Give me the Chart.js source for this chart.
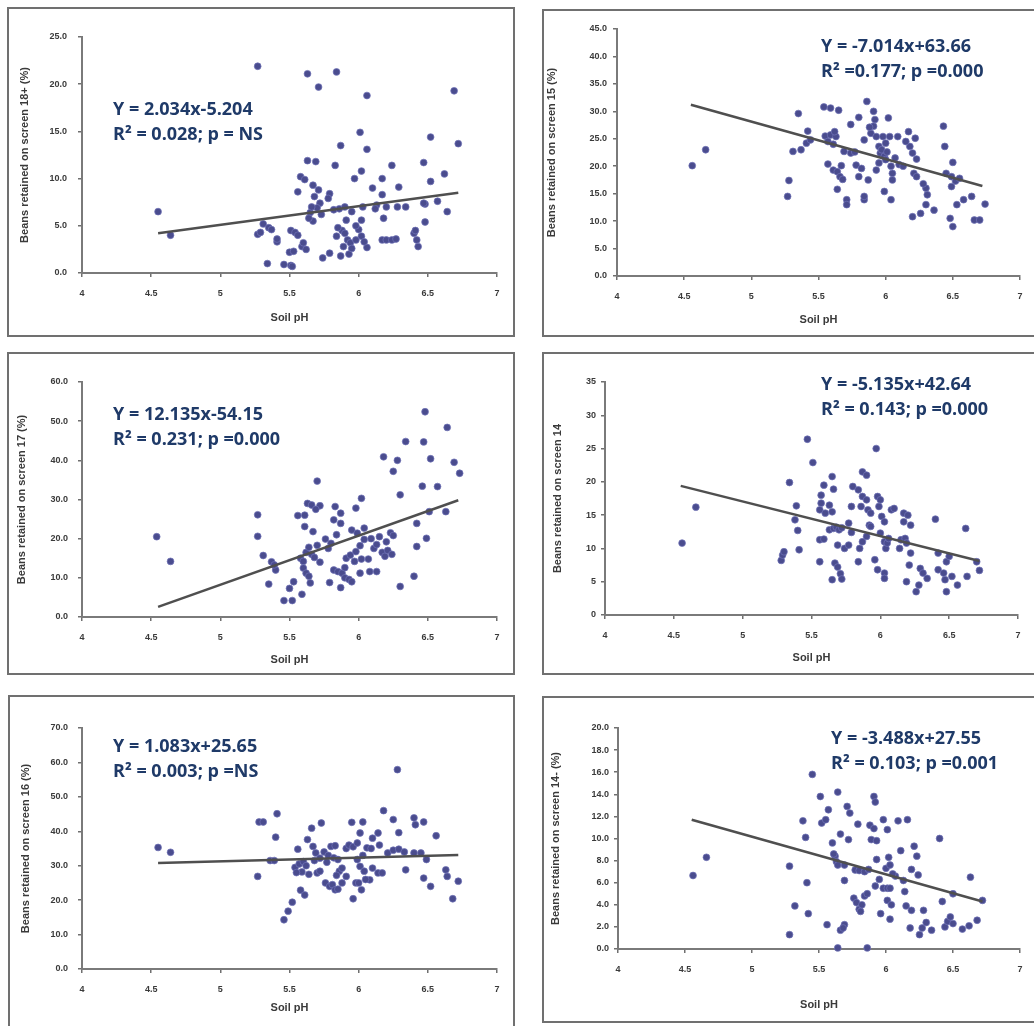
<!DOCTYPE html>
<html>
<head>
<meta charset="utf-8">
<script src="https://cdn.jsdelivr.net/npm/chart.js@4.4.1/dist/chart.umd.min.js"></script>
<style>
  html, body { margin: 0; padding: 0; background: #fff; width: 1034px; height: 1026px; overflow: hidden; position: relative; }
  .frame { position: absolute; box-sizing: border-box; border: 2px solid #707070; background: #fff; }
  .frame canvas { position: absolute; left: 0; top: 0; }
  .eq { position: absolute; font-family: 'Open Sans', sans-serif; font-weight: 700; font-size: 18px; line-height: 25px; color: #1f3a68; white-space: nowrap; }
</style>
</head>
<body>
<script>
// [soil pH, % beans retained]
const screen18Plus = [[4.55,6.5],[4.64,4.0],
  [5.27,21.9],[5.27,4.1],[5.29,4.3],[5.31,5.2],[5.34,1.0],[5.35,4.8],[5.37,4.6],[5.41,3.3],[5.41,3.6],
  [5.46,0.9],[5.51,0.8],[5.52,0.7],[5.50,2.2],[5.53,2.3],[5.51,4.5],[5.54,4.3],[5.56,4.0],[5.56,8.6],[5.58,10.2],[5.61,9.9],[5.59,2.8],[5.62,2.5],[5.60,3.2],
  [5.63,21.1],[5.63,11.9],[5.69,11.8],[5.71,19.7],[5.67,9.3],[5.71,8.8],[5.68,8.1],[5.72,7.4],[5.65,6.4],[5.67,5.5],[5.70,6.9],[5.66,7.0],[5.64,5.8],[5.73,6.2],[5.74,1.6],[5.79,2.1],[5.79,8.4],[5.78,7.9],
  [5.84,21.3],[5.83,11.4],[5.87,13.5],[5.82,6.7],[5.86,6.8],[5.84,3.9],[5.87,1.8],[5.88,4.5],[5.85,4.8],[5.90,4.2],[5.91,5.6],[5.92,3.5],[5.94,3.2],[5.89,2.8],[5.93,2.0],[5.95,2.6],[5.90,7.0],[5.95,6.5],
  [5.97,10.0],[6.02,10.8],[6.01,14.9],[6.06,18.8],[6.06,13.1],[6.00,4.6],[6.02,3.9],[6.02,5.6],[6.06,2.7],[5.98,3.5],[6.04,3.3],[6.03,7.0],[5.98,5.0],
  [6.10,9.0],[6.13,7.2],[6.17,10.0],[6.17,8.3],[6.18,5.8],[6.17,3.5],[6.20,3.5],[6.24,3.5],[6.27,3.6],[6.24,11.4],[6.29,9.1],[6.20,7.0],[6.28,7.0],[6.34,7.0],[6.12,6.8],
  [6.40,4.2],[6.42,3.5],[6.43,2.8],[6.41,4.5],[6.47,11.7],[6.48,7.3],[6.52,9.7],[6.52,14.4],[6.48,5.4],[6.57,7.6],[6.47,7.4],[6.62,10.5],[6.64,6.5],[6.69,19.3],[6.72,13.7]];

const screen15 = [[4.56,20.1],[4.66,23.0],
  [5.27,14.5],[5.28,17.4],[5.31,22.7],[5.35,29.6],[5.37,23.0],[5.41,24.2],[5.42,26.4],[5.44,24.8],
  [5.54,30.8],[5.59,30.6],[5.65,30.2],[5.55,25.5],[5.59,25.7],[5.63,25.4],[5.57,24.5],[5.61,24.0],[5.62,26.3],
  [5.57,20.4],[5.61,19.3],[5.64,19.0],[5.67,20.1],[5.66,18.1],[5.64,15.8],[5.71,13.9],[5.71,13.0],[5.68,17.6],
  [5.69,22.7],[5.74,22.4],[5.77,22.6],[5.74,27.6],[5.80,28.9],[5.80,18.1],[5.87,17.5],[5.84,13.9],[5.84,14.5],[5.78,20.2],[5.82,19.6],
  [5.86,31.8],[5.84,24.8],[5.89,26.0],[5.91,27.3],[5.92,28.5],[5.91,30.0],[5.88,27.1],
  [5.93,25.4],[5.95,23.6],[5.96,22.4],[5.95,20.6],[5.93,19.3],[5.98,25.4],[6.00,24.2],[6.03,25.4],[6.02,28.8],[5.99,21.8],[6.00,21.2],[6.04,20.0],[6.05,18.7],[6.05,17.5],[5.97,23.0],[6.01,22.6],[5.99,15.4],[6.04,13.9],
  [6.09,25.4],[6.07,21.5],[6.10,20.3],[6.13,20.0],[6.17,26.3],[6.22,25.1],[6.18,23.6],[6.20,22.4],[6.23,21.3],[6.21,18.7],[6.23,18.1],[6.15,24.5],
  [6.20,10.8],[6.26,11.4],[6.30,16.0],[6.31,14.8],[6.30,13.0],[6.36,12.0],[6.28,16.8],
  [6.43,27.3],[6.44,23.6],[6.45,18.7],[6.49,18.1],[6.50,20.7],[6.49,16.3],[6.48,10.5],[6.50,9.0],[6.53,13.0],[6.58,13.9],[6.64,14.5],[6.66,10.2],[6.70,10.2],[6.74,13.1],[6.52,17.3],[6.55,17.8]];

const screen17 = [[4.54,20.5],[4.64,14.2],
  [5.27,26.1],[5.27,20.6],[5.31,15.7],[5.35,8.4],[5.37,14.1],[5.40,12.0],[5.39,13.3],
  [5.46,4.2],[5.52,4.2],[5.50,7.3],[5.53,9.0],[5.59,5.8],[5.56,25.9],[5.61,26.0],
  [5.61,23.1],[5.63,29.0],[5.66,28.6],[5.67,21.8],[5.70,34.7],[5.72,28.4],[5.69,27.5],
  [5.58,15.0],[5.60,14.2],[5.62,16.5],[5.64,17.8],[5.66,16.0],[5.68,15.2],[5.70,18.3],[5.72,14.0],[5.60,12.5],[5.62,11.2],[5.64,10.4],[5.65,8.7],
  [5.76,19.9],[5.80,18.8],[5.79,8.8],[5.83,28.2],[5.87,26.5],[5.82,24.8],[5.87,23.9],[5.84,21.0],[5.78,17.5],
  [5.82,12.0],[5.85,11.6],[5.88,11.2],[5.90,10.0],[5.93,9.6],[5.95,9.0],[5.87,7.5],[5.90,12.6],
  [5.98,27.8],[6.02,30.3],[5.95,22.2],[5.99,21.4],[6.04,22.7],[5.91,15.0],[5.94,15.8],[5.98,16.7],[6.01,18.2],[6.04,19.8],[5.97,14.2],[6.02,14.8],
  [6.01,11.2],[6.08,11.6],[6.13,11.6],[6.07,14.8],[6.09,20.0],[6.11,17.5],[6.13,18.5],[6.15,20.5],[6.17,16.5],[6.19,15.5],[6.21,17.0],[6.23,21.5],[6.25,20.8],[6.20,19.2],[6.24,16.0],
  [6.18,40.9],[6.25,37.2],[6.28,40.0],[6.34,44.8],[6.30,31.2],[6.30,7.8],
  [6.40,10.4],[6.42,18.0],[6.42,23.9],[6.46,33.4],[6.47,44.7],[6.48,52.4],[6.49,20.1],[6.51,26.9],[6.52,40.4],[6.57,33.3],[6.64,48.4],[6.63,26.9],[6.69,39.5],[6.73,36.7]];

const screen14 = [[4.56,10.8],[4.66,16.2],
  [5.28,8.2],[5.29,9.0],[5.30,9.5],[5.34,19.9],[5.38,14.3],[5.39,16.4],[5.40,12.7],[5.41,9.8],[5.47,26.4],
  [5.51,22.9],[5.56,8.0],[5.56,11.3],[5.59,11.4],[5.57,18.0],[5.57,16.8],[5.56,15.8],[5.60,15.3],[5.59,19.5],[5.65,20.8],[5.66,18.9],[5.63,16.5],[5.65,15.5],[5.65,5.3],
  [5.63,12.8],[5.66,13.0],[5.68,13.2],[5.70,12.8],[5.72,13.1],[5.67,7.8],[5.69,7.2],[5.71,6.2],[5.72,5.4],[5.69,10.5],
  [5.74,10.0],[5.77,10.5],[5.79,12.4],[5.77,13.8],[5.79,16.3],[5.84,8.0],[5.80,19.3],[5.84,18.8],[5.87,17.8],[5.90,17.3],[5.87,21.5],[5.90,21.0],[5.86,16.3],[5.91,15.8],[5.93,15.3],
  [5.85,10.0],[5.87,11.0],[5.90,11.8],[5.92,13.5],[5.93,13.3],[5.96,8.3],[5.98,6.8],[6.03,6.3],[6.03,5.5],[5.97,25.0],
  [5.98,17.8],[6.00,17.3],[5.99,16.3],[6.01,14.8],[6.03,14.0],[6.00,12.3],[6.03,11.0],[6.04,10.0],[6.05,10.8],[6.06,11.5],[6.08,15.8],[6.10,16.0],
  [6.14,10.0],[6.15,11.3],[6.18,11.5],[6.19,10.8],[6.17,15.3],[6.20,15.0],[6.22,13.5],[6.17,14.0],[6.19,5.0],[6.22,9.3],[6.21,7.5],
  [6.26,3.5],[6.28,4.5],[6.29,7.0],[6.31,6.3],[6.34,5.5],[6.40,14.4],[6.42,9.3],[6.42,6.8],[6.46,6.3],[6.47,5.3],[6.48,3.5],[6.48,8.0],[6.50,8.8],[6.52,5.8],[6.56,4.5],[6.62,13.0],[6.63,5.8],[6.70,8.0],[6.72,6.7]];

const screen16 = [[4.55,35.3],[4.64,33.9],
  [5.27,26.9],[5.28,42.7],[5.31,42.7],[5.36,31.5],[5.39,31.5],[5.41,45.1],[5.40,38.3],
  [5.46,14.3],[5.49,16.8],[5.52,19.4],[5.56,34.8],[5.54,29.5],[5.57,30.5],[5.59,28.2],[5.55,28.0],[5.58,22.9],[5.61,21.5],
  [5.60,31.2],[5.62,30.0],[5.64,27.5],[5.63,37.6],[5.66,40.9],[5.67,35.6],[5.69,33.7],[5.70,27.9],[5.72,28.4],[5.73,42.4],
  [5.68,31.5],[5.72,32.2],[5.75,34.0],[5.78,33.0],[5.80,35.6],[5.83,35.8],[5.77,31.0],[5.82,32.3],[5.85,31.8],
  [5.76,25.0],[5.79,24.0],[5.81,24.5],[5.83,23.0],[5.85,23.2],[5.88,25.0],[5.86,28.4],[5.88,29.3],[5.91,26.9],[5.84,27.2],
  [5.91,35.0],[5.93,36.0],[5.96,35.5],[5.99,36.6],[5.95,42.6],[6.03,42.7],[5.96,20.4],[5.98,25.0],[6.00,25.0],[6.01,39.5],
  [5.99,31.8],[6.01,29.8],[6.04,28.4],[6.02,23.0],[6.08,25.9],[6.03,33.0],[6.05,26.0],
  [6.06,35.2],[6.09,35.0],[6.10,38.0],[6.14,39.5],[6.15,36.0],[6.10,29.3],[6.14,27.9],[6.17,27.9],[6.18,46.0],
  [6.21,33.7],[6.25,34.5],[6.29,34.8],[6.33,34.0],[6.25,43.4],[6.28,57.9],[6.29,39.6],[6.34,28.8],
  [6.40,43.9],[6.41,41.9],[6.40,33.7],[6.45,33.7],[6.47,42.7],[6.47,26.4],[6.52,24.0],[6.49,31.8],[6.56,38.7],[6.63,28.8],[6.64,26.9],[6.68,20.4],[6.72,25.5]];

const screen14Minus = [[4.56,6.65],[4.66,8.3],
  [5.28,7.5],[5.28,1.3],[5.32,3.9],[5.38,11.6],[5.40,10.1],[5.41,6.0],[5.42,3.2],[5.45,15.8],
  [5.51,13.8],[5.52,11.4],[5.55,11.7],[5.57,12.6],[5.56,2.2],[5.64,14.2],[5.60,9.6],[5.62,8.4],[5.63,7.9],[5.64,7.6],[5.61,8.6],[5.66,10.4],[5.64,0.1],[5.66,1.7],[5.69,2.2],[5.68,1.9],
  [5.69,7.6],[5.69,6.2],[5.71,12.9],[5.73,12.3],[5.72,9.9],[5.79,11.3],
  [5.76,4.6],[5.78,4.2],[5.80,3.6],[5.82,4.0],[5.84,4.8],[5.86,5.0],[5.81,3.4],[5.77,7.15],[5.80,7.1],[5.84,7.0],[5.87,7.2],
  [5.86,0.1],[5.91,13.8],[5.92,13.3],[5.88,11.2],[5.91,10.9],[5.89,9.9],[5.93,9.8],[5.93,8.1],[5.95,6.3],[5.92,5.7],
  [5.98,11.7],[6.01,10.8],[6.02,8.3],[5.98,5.5],[6.01,5.5],[6.03,5.5],[5.96,3.2],[6.03,2.7],[6.00,7.3],[6.03,7.6],[6.01,4.4],[6.04,4.0],[6.07,6.6],[6.05,6.8],
  [6.09,11.6],[6.16,11.7],[6.11,8.9],[6.13,6.2],[6.14,5.2],[6.15,3.9],[6.19,3.5],[6.18,1.9],[6.19,7.2],[6.21,9.3],[6.23,8.4],[6.24,6.7],
  [6.25,1.3],[6.27,1.9],[6.28,3.5],[6.30,2.4],[6.34,1.7],[6.40,10.0],[6.42,4.3],[6.44,2.0],[6.46,2.5],[6.48,2.9],[6.50,2.3],[6.50,5.0],[6.57,1.8],[6.62,2.1],[6.63,6.5],[6.68,2.6],[6.72,4.4]];

// trend line end points
const trend18Plus = [[4.55,4.2],[6.72,8.5]];
const trend15 = [[4.55,31.2],[6.72,16.4]];
const trend17 = [[4.55,2.6],[6.72,29.8]];
const trend14 = [[4.55,19.4],[6.72,8.1]];
const trend16 = [[4.55,30.8],[6.72,33.1]];
const trend14Minus = [[4.55,11.7],[6.72,4.3]];

const yTitles = ['Beans retained on screen 18+ (%)', 'Beans retained on screen 15 (%)', 'Beans retained on screen 17 (%)',
  'Beans retained on screen 14', 'Beans retained on screen 16 (%)', 'Beans retained on screen 14- (%)'];
const yMax = [25, 45, 60, 35, 70, 20];
const yStep = [5, 5, 10, 5, 10, 2];
const yDecimals = [1, 1, 1, 0, 1, 1];
const xTicks = [4, 4.5, 5, 5.5, 6, 6.5, 7];
const equations = ['Y = 2.034x-5.204', 'Y = -7.014x+63.66', 'Y = 12.135x-54.15', 'Y = -5.135x+42.64', 'Y = 1.083x+25.65', 'Y = -3.488x+27.55'];
const statLines = ['R\u00b2 = 0.028; p = NS', 'R\u00b2 =0.177; p =0.000', 'R\u00b2 = 0.231; p =0.000', 'R\u00b2 = 0.143; p =0.000', 'R\u00b2 = 0.003; p =NS', 'R\u00b2 = 0.103; p =0.001'];

const series = [screen18Plus, screen15, screen17, screen14, screen16, screen14Minus];
const trends = [trend18Plus, trend15, trend17, trend14, trend16, trend14Minus];

// page layout (px): frame box, plot area box, title centres, equation block
const layout = [
  { frame: [7, 7, 508, 330],   plot: [82, 37, 497, 273],   yTitleX: 25,  xTitleY: 318,  tickPad: 11, eq: [113, 108] },
  { frame: [542, 9, 500, 328], plot: [617, 29, 1020, 276], yTitleX: 552, xTitleY: 320,  tickPad: 6,  eq: [821, 45] },
  { frame: [7, 352, 508, 323], plot: [82, 382, 497, 617],  yTitleX: 22,  xTitleY: 660,  tickPad: 10, eq: [113, 413] },
  { frame: [542, 352, 500, 323], plot: [605, 382, 1018, 615], yTitleX: 558, xTitleY: 658, tickPad: 5, eq: [821, 383] },
  { frame: [8, 695, 507, 340], plot: [82, 728, 497, 969],  yTitleX: 26,  xTitleY: 1008, tickPad: 10, eq: [113, 745] },
  { frame: [542, 696, 500, 327], plot: [618, 728, 1020, 949], yTitleX: 556, xTitleY: 1005, tickPad: 5, eq: [831, 737] },
];

const FONT = "'Liberation Sans', Arial, sans-serif";
const TEXT = '#3a3a3a';
Chart.defaults.font.family = FONT;

layout.forEach((p, i) => {
  const [fx, fy, fw, fh] = p.frame;
  const frame = document.createElement('div');
  frame.className = 'frame';
  Object.assign(frame.style, { left: fx + 'px', top: fy + 'px', width: fw + 'px', height: fh + 'px' });
  const ox = fx + 2, oy = fy + 2, cw = fw - 4, ch = fh - 4;
  const cv = document.createElement('canvas');
  cv.width = cw; cv.height = ch;
  cv.style.width = cw + 'px'; cv.style.height = ch + 'px';
  frame.appendChild(cv);
  document.body.appendChild(frame);

  const [pl, pt, pr, pb] = p.plot;
  const left = pl - ox, top = pt - oy, right = pr - ox, bottom = pb - oy;
  const titleLH = 11 * 1.2;

  const axisGrid = { drawOnChartArea: false, drawTicks: true, tickLength: 4, color: '#6f6f6f', lineWidth: 1.5 };
  const axisBorder = { display: true, color: '#7a7a7a', width: 2 };
  const tickFont = { size: 9, weight: 'bold', family: FONT };
  const titleFont = { size: 11, weight: 'bold', family: FONT };

  new Chart(cv, {
    type: 'scatter',
    data: {
      datasets: [
        {
          data: trends[i].map(([x, y]) => ({ x, y })),
          showLine: true, borderColor: '#4f4f4f', borderWidth: 2.5, pointRadius: 0, clip: false, order: 0,
        },
        {
          data: series[i].map(([x, y]) => ({ x, y })),
          backgroundColor: '#4a4c8e', borderColor: 'rgba(112,114,182,0.9)', borderWidth: 0.8,
          pointRadius: 3.4, clip: false, order: 1,
        },
      ],
    },
    options: {
      responsive: false, animation: false, devicePixelRatio: 1,
      layout: { padding: { left: 0, top: top, right: cw - right, bottom: 0 } },
      plugins: { legend: { display: false }, tooltip: { enabled: false } },
      scales: {
        x: {
          type: 'linear', min: xTicks[0], max: xTicks[xTicks.length - 1],
          afterFit: s => { s.height = ch - bottom; },
          afterBuildTicks: s => { s.ticks = xTicks.map(v => ({ value: v })); },
          ticks: { callback: v => String(v), font: tickFont, color: TEXT, padding: 11, maxRotation: 0, autoSkip: false },
          grid: axisGrid, border: axisBorder,
          title: { display: true, text: 'Soil pH', font: titleFont, color: TEXT,
                   padding: { top: 0, bottom: ch - (p.xTitleY - oy) - titleLH / 2 } },
        },
        y: {
          type: 'linear', min: 0, max: yMax[i],
          afterFit: s => { s.width = left; },
          ticks: { stepSize: yStep[i], callback: v => v.toFixed(yDecimals[i]), font: tickFont, color: TEXT, padding: p.tickPad },
          grid: axisGrid, border: axisBorder,
          title: { display: true, text: yTitles[i], font: titleFont, color: TEXT,
                   padding: { top: (p.yTitleX - ox) - titleLH / 2, bottom: 0 } },
        },
      },
    },
  });

  const eq = document.createElement('div');
  eq.className = 'eq';
  eq.style.left = p.eq[0] + 'px';
  eq.style.top = (p.eq[1] - 12.5) + 'px';
  eq.innerHTML = `${equations[i]}<br>${statLines[i]}`;
  document.body.appendChild(eq);
});
</script>
</body>
</html>
